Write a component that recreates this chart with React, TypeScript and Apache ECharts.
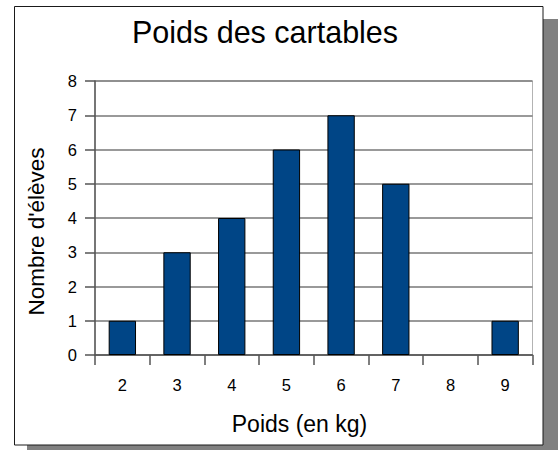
import React, { useEffect, useRef } from "react";
import * as echarts from "echarts";

const categories = ["2", "3", "4", "5", "6", "7", "8", "9"];
const counts = [1, 3, 4, 6, 7, 5, 0, 1];
const yTicks = { min: 0, max: 8, interval: 1 };
const titleText = "Poids des cartables";
const xName = "Poids (en kg)";
const yName = "Nombre d'élèves";

const FONT = "'Liberation Sans', Arial, sans-serif";

export default function App() {
  const ref = useRef<HTMLDivElement>(null);
  useEffect(() => {
    if (!ref.current) return;
    const chart = echarts.init(ref.current, undefined, { renderer: "svg" });
    chart.setOption({
      animation: false,
      backgroundColor: "#ffffff",
      textStyle: { fontFamily: FONT },
      graphic: [
        {
          type: "rect",
          z: -100,
          silent: true,
          shape: { x: 27, y: 19, width: 531, height: 440 },
          style: { fill: "#808080" },
        },
        {
          type: "rect",
          z: -99,
          silent: true,
          shape: { x: 14.5, y: 6.5, width: 528.5, height: 438.5 },
          style: { fill: "#ffffff", stroke: "#1a1a1a", lineWidth: 1 },
        },
        {
          type: "text",
          x: 265,
          y: 32,
          style: {
            text: titleText,
            font: `30.5px ${FONT}`,
            fill: "#000",
            textAlign: "center",
            textVerticalAlign: "middle",
          },
        },
        {
          type: "text",
          x: 299.5,
          y: 424,
          style: {
            text: xName,
            font: `23px ${FONT}`,
            fill: "#000",
            textAlign: "center",
            textVerticalAlign: "middle",
          },
        },
        {
          type: "text",
          x: 36,
          y: 231.5,
          rotation: Math.PI / 2,
          style: {
            text: yName,
            font: `22.5px ${FONT}`,
            fill: "#000",
            textAlign: "center",
            textVerticalAlign: "middle",
          },
        },
      ],
      grid: {
        left: 95,
        right: 25.5,
        top: 81,
        bottom: 95,
        show: true,
        borderColor: "#b3b3b3",
        borderWidth: 1,
      },
      xAxis: {
        type: "category",
        data: categories,
        boundaryGap: true,
        axisLine: { show: true, lineStyle: { color: "#555", width: 1.5 } },
        axisTick: { show: true, length: 10, lineStyle: { color: "#555", width: 1.5 } },
        axisLabel: { margin: 21, fontSize: 16.5, color: "#000", fontFamily: FONT },
        splitLine: { show: false },
      },
      yAxis: {
        type: "value",
        min: yTicks.min,
        max: yTicks.max,
        interval: yTicks.interval,
        axisLine: { show: true, lineStyle: { color: "#555", width: 1.5 } },
        axisTick: { show: true, length: 10, lineStyle: { color: "#555", width: 1.5 } },
        axisLabel: { margin: 18, fontSize: 16.5, color: "#000", fontFamily: FONT },
        splitLine: { show: true, lineStyle: { color: "#777", width: 1.5 } },
      },
      series: [
        {
          type: "bar",
          data: counts.map((v) =>
            v === 0 ? { value: v, itemStyle: { borderWidth: 0 } } : v
          ),
          barCategoryGap: "50%",
          itemStyle: { color: "#004586", borderColor: "#000", borderWidth: 1 },
        },
      ],
    });
    return () => chart.dispose();
  }, []);
  return (
    <div
      ref={ref}
      style={{ position: "absolute", left: 0, top: 0, width: 558, height: 450 }}
    />
  );
}
